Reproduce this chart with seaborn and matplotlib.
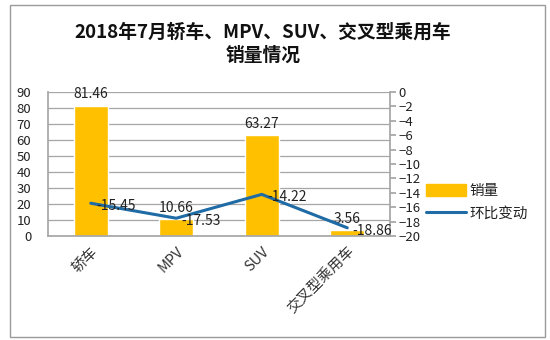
import matplotlib
matplotlib.use("Agg")
import matplotlib.pyplot as plt
import seaborn as sns
import numpy as np
import pandas as pd
from matplotlib.patches import Rectangle, Patch
from matplotlib.lines import Line2D

categories = ["轿车", "MPV", "SUV", "交叉型乘用车"]
sales = [81.46, 10.66, 63.27, 3.56]
mom_change = [-15.45, -17.53, -14.22, -18.86]
title = "2018年7月轿车、MPV、SUV、交叉型乘用车\n销量情况"
left_ticks = list(range(0, 91, 10))
right_ticks = list(range(0, -21, -2))

sns.set_theme(style="white")
plt.rcParams['font.family'] = ['Noto Sans CJK SC', 'DejaVu Sans']

BAR = "#FFC000"
LINE = "#1F6BA5"
GRID = "#A6A6A6"
TXT = "#222222"

fig = plt.figure(figsize=(5.5, 3.4), dpi=100)
fig.patch.set_facecolor("white")
fig.patches.append(Rectangle((10/550, 3/340), 535/550, 332/340, transform=fig.transFigure,
                             fill=False, edgecolor="#9A9A9A", linewidth=1.0))

ax = fig.add_axes([48/550, 1-236/340, 342/550, 144/340])
df = pd.DataFrame({"cat": categories, "sales": sales, "mom": mom_change})
sns.barplot(data=df, x="cat", y="sales", color=BAR, width=0.4, ax=ax, saturation=1)
ax.set_ylim(0, 90)
ax.set_yticks(left_ticks)
ax.set_xlim(-0.5, len(categories) - 0.5)
ax.yaxis.grid(True, color=GRID, linewidth=0.9)
ax.set_axisbelow(True)
ax.set_xlabel("")
ax.set_ylabel("")
for s in ["top", "right"]:
    ax.spines[s].set_visible(False)
for s in ["left", "bottom"]:
    ax.spines[s].set_color(GRID)
ax.tick_params(axis="y", length=0, labelsize=9.5, labelcolor=TXT, pad=12)
ax.tick_params(axis="x", length=0, labelsize=10.5, labelcolor="#333333", pad=6)
plt.setp(ax.get_xticklabels(), rotation=45, ha="right", rotation_mode="anchor")
for i, v in enumerate(sales):
    ax.annotate(f"{v:.2f}", (i, v), xytext=(0, 3), textcoords="offset points",
                ha="center", va="bottom", fontsize=10, color=TXT)

ax2 = ax.twinx()
xpos = np.arange(len(categories))
sns.lineplot(x=xpos, y=mom_change, color=LINE, linewidth=2.2, ax=ax2)
ax2.set_ylim(-20, 0)
ax2.set_yticks(right_ticks)
ax2.set_xlim(-0.5, len(categories) - 0.5)
for s in ["top", "left", "bottom"]:
    ax2.spines[s].set_visible(False)
ax2.spines["right"].set_color(GRID)
ax2.tick_params(axis="y", length=4, color=GRID, labelsize=9.5, labelcolor=TXT, pad=2, right=True)
for i, v in enumerate(mom_change):
    ax2.annotate(f"{v:.2f}", (i, v), xytext=(4, -2), textcoords="offset points",
                 ha="left", va="center", fontsize=10, color=TXT)

handles = [Patch(facecolor=BAR, edgecolor=BAR), Line2D([0], [0], color=LINE, linewidth=2.2)]
fig.legend(handles, ["销量", "环比变动"], loc="center left", bbox_to_anchor=(0.75, 0.405),
           frameon=False, fontsize=10.5, handlelength=2.8, handleheight=0.9,
           handletextpad=0.2, labelspacing=0.6, labelcolor=TXT)

fig.text(263/550, 1-44/340, title, ha="center", va="center", fontsize=13.5,
         fontweight="bold", color="#111111", linespacing=1.25)

fig.savefig("out.png", dpi=100)
